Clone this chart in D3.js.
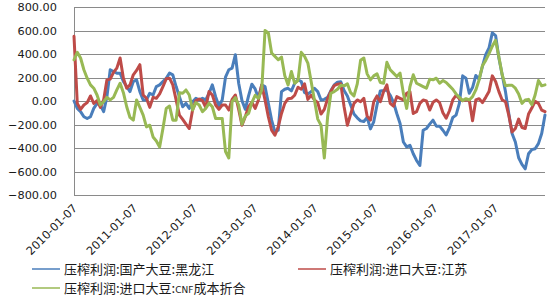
<!DOCTYPE html>
<html><head><meta charset="utf-8">
<script src="https://cdn.jsdelivr.net/npm/d3@7/dist/d3.min.js"></script>
<style>
html,body{margin:0;padding:0;background:#fff;}
svg{display:block;}
</style>
</head><body>
<svg id="chart" width="550" height="300"></svg>
<script>
// ---- data (one sample every 20 days starting 2010-01-07) ----
const startDate = "2010-01-07";
const stepDays = 20;
const yTicks = [800, 600, 400, 200, 0, -200, -400, -600, -800];
const xTickLabels = ["2010-01-07","2011-01-07","2012-01-07","2013-01-07","2014-01-07","2015-01-07","2016-01-07","2017-01-07"];
const seriesNames = ["压榨利润:国产大豆:黑龙江", "压榨利润:进口大豆:江苏", "压榨利润:进口大豆:CNF成本折合"];

const heilongjiang = [0,-63,-91,-134,-149,-134,-63,-20,-34,-91, 37,266,251,237,237,166,123,80,166,180,
 80,9,9,66,51,123,137,166,194,237, 223,123,37,-49,-20,-63,-6,23,9,23,
 9,66,137,37,-43,9,203,266,280,394, 151,3,-71,43,143,103,23,137,123,-20,
 -163,-263,-249,80,100,108,86,151,180,166, 71,60,80,108,80,9,14,31,89,137,
 160,163,89,43,-34,-111,-143,-169,-174,-140, -237,-177,-34,86,89,94,49,-11,-106,-191,
 -349,-391,-377,-449,-506,-549,-249,-234,-197,-163, -214,-214,-249,-289,-226,-140,-120,-20,214,194,
 66,114,217,186,294,394,451,580,557,366, 223,80,-106,-277,-349,-483,-540,-577,-449,-414,
 -406,-363,-277,-120];

const jiangsu = [551,-20,-71,-34,-14,43,-20,3,-54,9, 180,186,243,280,366,194,109,137,223,260,
 309,51,23,-54,31,23,60,123,189,194, 137,9,-120,-157,-197,-234,-77,3,17,3,
 -54,80,51,-34,-71,-34,-34,-77,14,51, -71,-206,-134,-49,-11,-63,9,137,9,-134,
 -249,-291,-220,-106,-20,20,23,49,117,100, 146,14,49,9,-14,-111,-71,20,83,131,
 143,146,-49,-206,-111,-20,9,-6,23,-129, -163,-6,43,-6,80,137,-20,-43,37,23,
 9,66,80,-106,-91,-20,9,0,-77,-11, 9,-14,-100,-146,-83,9,49,20,3,9,
 9,-169,9,20,-14,31,80,214,166,80, 9,-6,-120,-263,-234,-154,-226,-234,-111,-60,
 -3,-20,-77,-91];

const cnf = [351,414,366,266,194,137,109,51,-34,-6, 31,9,31,94,151,71,-49,-140,-163,9,
 -54,-120,-220,-206,-306,-340,-391,-234,-63,-43, -163,-163,71,66,94,51,-77,-14,-34,-91,
 -63,-20,-49,-149,-149,-149,-430,-485,-6,29, -34,-197,-129,-106,-14,49,23,94,600,580,
 408,380,351,374,214,137,251,151,174,414, 380,323,166,9,-154,-206,-485,-134,66,80,
 100,134,129,146,71,43,146,346,366,231, 180,214,231,157,151,329,266,237,209,237,
 66,-63,123,223,151,137,123,109,186,180, 194,151,174,157,129,100,60,31,3,20,
 9,37,94,180,300,346,403,466,517,374, 223,129,134,134,109,60,-20,9,14,-31,
 51,174,129,137];

const colors = ["#4A7EBB", "#BE4B48", "#98B954"];

// ---- chart ----
(function () {
const svg = d3.select("#chart");
const parse = d3.utcParse("%Y-%m-%d");
const t0 = parse(startDate);
const dateAt = i => d3.utcDay.offset(t0, i * stepDays);
const n = heilongjiang.length;
const tEnd = dateAt(n - 1);

const pLeft = 74, pRight = 545, pTop = 7, pBottom = 195;
const x = d3.scaleUtc().domain([t0, tEnd]).range([pLeft, pRight]);
const y = d3.scaleLinear().domain([-800, 800]).range([pBottom, pTop]);

// gridlines
svg.append("g").selectAll("line").data(yTicks).join("line")
  .attr("x1", pLeft).attr("x2", pRight)
  .attr("y1", d => Math.round(y(d)) + 0.5).attr("y2", d => Math.round(y(d)) + 0.5)
  .attr("stroke", "#8a8a8a").attr("stroke-width", 1);

// y axis line
svg.append("line").attr("x1", pLeft + 0.5).attr("x2", pLeft + 0.5)
  .attr("y1", pTop).attr("y2", pBottom + 0.5).attr("stroke", "#8a8a8a");

// y labels
svg.append("g").selectAll("text").data(yTicks).join("text")
  .attr("x", 57).attr("y", d => y(d)).attr("dy", "0.36em")
  .attr("text-anchor", "end")
  .attr("font-family", "DejaVu Sans, Verdana, sans-serif").attr("font-size", 11.3)
  .attr("fill", "#1a1a1a")
  .text(d => d3.format(".2f")(d));

// x labels
svg.append("g").selectAll("text").data(xTickLabels).join("text")
  .attr("transform", d => `translate(${x(parse(d)) + 1},${206}) rotate(-45)`)
  .attr("text-anchor", "end").attr("dy", "0.36em")
  .attr("font-family", "DejaVu Sans, Verdana, sans-serif").attr("font-size", 11.4)
  .attr("fill", "#1a1a1a")
  .text(d => d);

// lines
const line = d3.line().x((d, i) => x(dateAt(i))).y(d => y(d)).curve(d3.curveLinear);
[heilongjiang, jiangsu, cnf].forEach((s, k) => {
  svg.append("path").datum(s)
    .attr("d", line)
    .attr("fill", "none")
    .attr("stroke", colors[k])
    .attr("stroke-width", 3)
    .attr("stroke-linejoin", "round")
    .attr("stroke-linecap", "round");
});

// legend
const legendPos = [[32, 269], [298, 269], [32, 288]];
seriesNames.forEach((name, k) => {
  const [lx, ly] = legendPos[k];
  const g = svg.append("g");
  g.append("line").attr("x1", lx).attr("x2", lx + 28).attr("y1", ly).attr("y2", ly)
    .attr("stroke", colors[k]).attr("stroke-width", 1.5);
  const t = g.append("text").attr("x", lx + 32).attr("y", ly).attr("dy", "0.36em")
    .attr("font-family", "Noto Sans CJK SC, sans-serif").attr("font-size", 13)
    .attr("fill", "#1a1a1a");
  const parts = name.split(/(CNF)/);
  parts.forEach(p => {
    if (!p) return;
    const ts = t.append("tspan").text(p);
    if (p === "CNF") ts.attr("font-size", 9).attr("font-family", "DejaVu Sans, sans-serif");
  });
});
})();
</script>
</body></html>
